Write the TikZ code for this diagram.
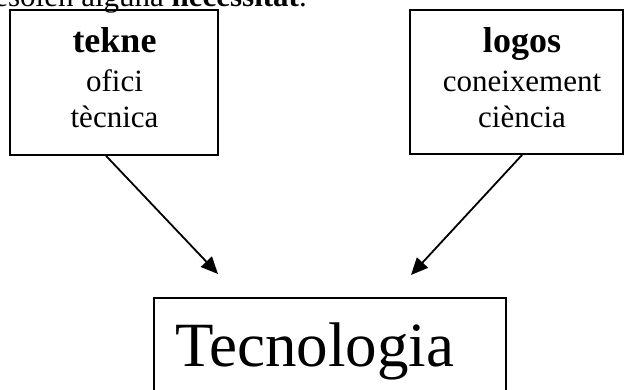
\documentclass[tikz,border=0pt]{standalone}
\usepackage{fontspec}
\setmainfont{Liberation Serif}
\usetikzlibrary{arrows.meta}
\begin{document}
\begin{tikzpicture}[x=1pt,y=-1pt,
  frame/.style={draw, line width=1.8pt, inner sep=0pt},
  body/.style={font=\fontsize{31}{37}\selectfont, inner sep=0pt, anchor=base},
  head/.style={font=\fontsize{36}{40}\selectfont\bfseries, inner sep=0pt, anchor=base},
  big/.style={font=\fontsize{63}{70}\selectfont, inner sep=0pt, anchor=base west},
  conn/.style={line width=1.8pt, -{Triangle[length=17pt,width=15pt]}}]
\useasboundingbox (0,0) rectangle (625,390);
\clip (0,0) rectangle (625,390);
\node[body, anchor=base east] (intro) at (307,7) {resolen alguna \textbf{necessitat}.};
% boxes
\node[frame, minimum width=208pt, minimum height=145pt] (tekbox) at (114,82.5) {};
\node[frame, minimum width=213pt, minimum height=144pt] (logbox) at (516.5,82) {};
\node[frame, minimum width=352pt, minimum height=150pt] (tecbox) at (330,373) {};
% texts
\node[head] (tekne) at (114.5,53) {tekne};
\node[body] (ofici) at (114.5,92) {ofici};
\node[body] (tecnica) at (114.5,128) {tècnica};
\node[head] (logos) at (522,53) {logos};
\node[body] (coneix) at (522,92) {coneixement};
\node[body] (ciencia) at (522,128) {ciència};
\node[big] (tecno) at (175,367) {Tecnologia};
% arrows
\coordinate (tipL) at (218,274);
\coordinate (tipR) at (411,275);
\draw[conn] ([xshift=97pt]tekbox.south west) -- (tipL);
\draw[conn] ([xshift=113pt]logbox.south west) -- (tipR);
\end{tikzpicture}
\end{document}
